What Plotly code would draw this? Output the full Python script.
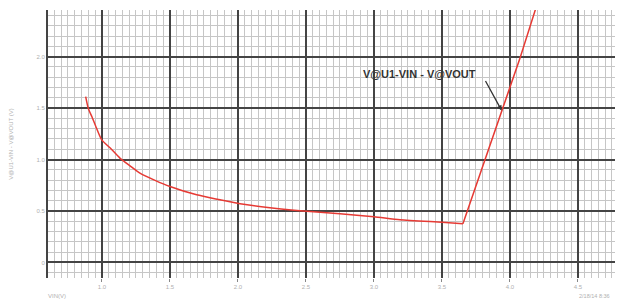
import plotly.graph_objects as go

# Data
x_vals = [0.880, 0.899, 0.926, 0.956, 0.998, 1.059, 1.132, 1.206, 1.279, 1.390,
          1.500, 1.696, 1.868, 2.015, 2.235, 2.456, 2.750, 3.000, 3.191, 3.500,
          3.654, 3.939, 4.074, 4.190]
y_vals = [1.612, 1.499, 1.415, 1.317, 1.191, 1.114, 1.014, 0.939, 0.868, 0.798,
          0.738, 0.657, 0.609, 0.570, 0.531, 0.502, 0.473, 0.444, 0.415, 0.390,
          0.376, 1.476, 1.987, 2.470]

x_ticks = [1.0, 1.5, 2.0, 2.5, 3.0, 3.5, 4.0, 4.5]
x_ticklabels = ["1.0", "1.5", "2.0", "2.5", "3.0", "3.5", "4.0", "4.5"]
y_ticks = [0, 0.5, 1.0, 1.5, 2.0]
y_ticklabels = ["0", "0.5", "1.0", "1.5", "2.0"]

series_name = "V@U1-VIN - V@VOUT"
y_title = "V@U1-VIN - V@VOUT (V)"
x_title = "VIN(V)"
stamp = "2/18/14 8:36"
knee_index = 20
arrow_index = 21

red = "#e63a34"
fig = go.Figure()
# curved part (smoothed) and straight rise after the knee
fig.add_trace(go.Scatter(x=x_vals[:knee_index + 1], y=y_vals[:knee_index + 1],
                         mode="lines", line=dict(color=red, width=1.5, shape="spline",
                                                 smoothing=0.6),
                         name=series_name, showlegend=False))
fig.add_trace(go.Scatter(x=x_vals[knee_index:], y=y_vals[knee_index:],
                         mode="lines", line=dict(color=red, width=1.5),
                         name=series_name, showlegend=False))

grid_minor = "#c6c6c6"
label_grey = "#b0b0b0"
# the page body adds an 8px offset, so the figure is sized/margined to compensate
fig.update_layout(
    width=615, height=294,
    margin=dict(l=40, r=3, t=2, b=24, autoexpand=False),
    paper_bgcolor="white", plot_bgcolor="white",
    font=dict(family="Liberation Sans, Arial", size=6, color=label_grey),
    xaxis=dict(range=[0.603, 4.809], tickvals=x_ticks, ticktext=x_ticklabels,
               automargin=False,
               showgrid=True, gridcolor="#444444", gridwidth=1.8,
               zeroline=False, showline=False, ticks="outside", ticklen=3,
               tickcolor="#888888",
               tickfont=dict(size=6, color=label_grey),
               minor=dict(dtick=0.05, showgrid=True, gridcolor=grid_minor,
                          gridwidth=1)),
    yaxis=dict(range=[-0.151, 2.453], tickvals=y_ticks, ticktext=y_ticklabels,
               automargin=False,
               showgrid=True, gridcolor="#444444", gridwidth=1.8,
               zeroline=False, showline=True, linecolor="#444444", linewidth=2,
               ticks="", tickfont=dict(size=6, color=label_grey),
               minor=dict(dtick=0.1, showgrid=True, gridcolor=grid_minor,
                          gridwidth=1),
               title=dict(text=y_title, font=dict(size=6, color=label_grey),
                          standoff=22)),
)

fig.add_annotation(x=3.338, y=1.829, text="<b>" + series_name + "</b>", showarrow=False,
                   font=dict(family="Liberation Sans, Arial", size=11, color="#333333"),
                   xanchor="center", yanchor="middle")
fig.add_annotation(x=x_vals[arrow_index], y=y_vals[arrow_index], text="",
                   showarrow=True, ax=-17, ay=-31, arrowhead=2, arrowsize=0.8,
                   arrowwidth=1.3, arrowcolor="#333333")
fig.add_annotation(x=(57 - 48) / 572, y=-(296 - 278) / 268, xref="paper", yref="paper",
                   text=x_title, showarrow=False, xanchor="center", yanchor="middle",
                   font=dict(size=6, color=label_grey))
fig.add_annotation(x=(594 - 48) / 572, y=-(296 - 278) / 268, xref="paper", yref="paper",
                   text=stamp, showarrow=False, xanchor="center", yanchor="middle",
                   font=dict(size=5.5, color=label_grey))

fig.write_html("out.html")
